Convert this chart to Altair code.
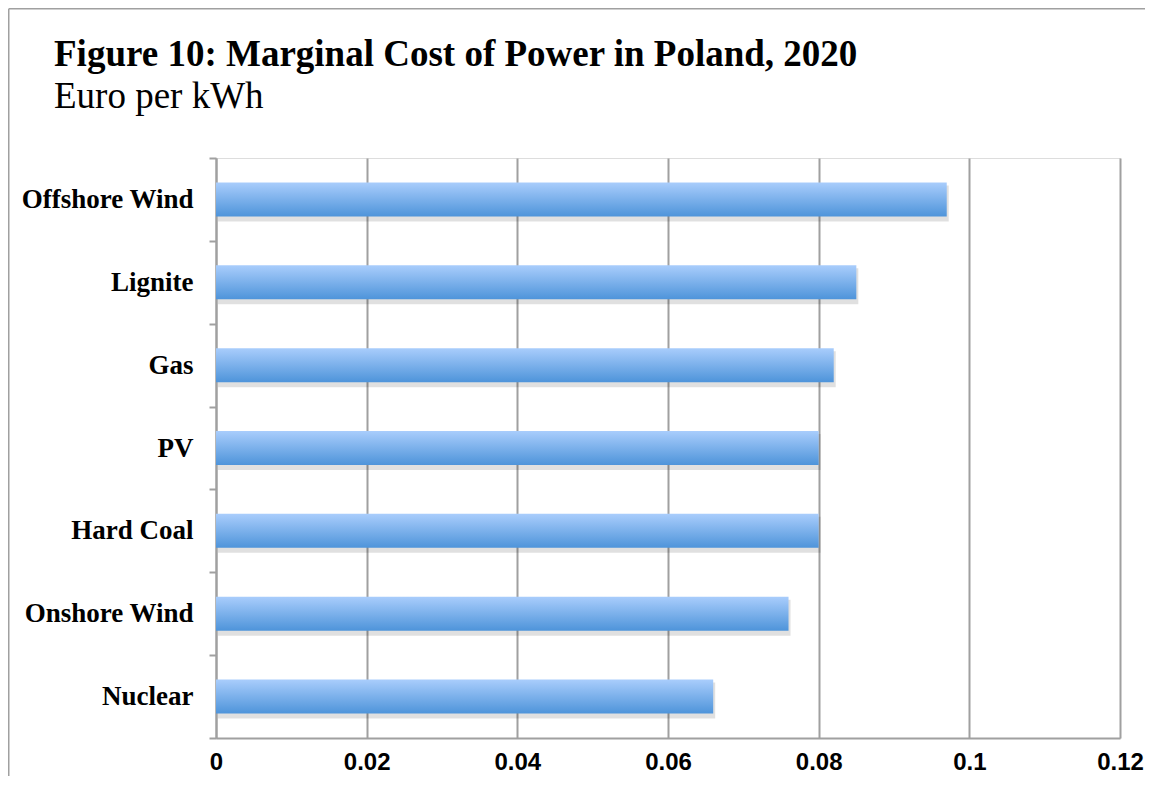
import altair as alt
import pandas as pd

categories = ["Offshore Wind", "Lignite", "Gas", "PV", "Hard Coal", "Onshore Wind", "Nuclear"]
values = [0.097, 0.085, 0.082, 0.080, 0.080, 0.076, 0.066]
x_ticks = [0, 0.02, 0.04, 0.06, 0.08, 0.1, 0.12]
title_text = "Figure 10: Marginal Cost of Power in Poland, 2020"
subtitle_text = "Euro per kWh"

df = pd.DataFrame({"source": categories, "cost": values})

GRAY = "#a0a0a0"

x_enc = alt.X("cost:Q",
              scale=alt.Scale(domain=[0, 0.12], nice=False),
              axis=alt.Axis(values=x_ticks, title=None, grid=True, gridColor=GRAY, gridWidth=2,
                            domainColor=GRAY, domainWidth=2, ticks=False, labelPadding=12,
                            labelFont="Liberation Sans", labelFontWeight="bold", labelFontSize=24,
                            labelColor="#000", labelFlush=False,
                            labelExpr="datum.value == 0 ? '0' : format(datum.value, '.2~f')"))
y_enc = alt.Y("source:N", sort=categories,
              scale=alt.Scale(paddingInner=0, paddingOuter=0),
              axis=alt.Axis(title=None, grid=False, domainColor=GRAY, domainWidth=2,
                            tickColor=GRAY, tickWidth=2, tickSize=7, tickBand="extent",
                            labelPadding=16, labelFont="Liberation Serif", labelFontWeight="bold",
                            labelFontSize=27, labelColor="#000"))

shadow = alt.Chart(df).mark_bar(color="#000000", opacity=0.12, height=36, yOffset=4, xOffset=2).encode(
    x=x_enc, y=y_enc)

bars = alt.Chart(df).mark_bar(
    height=34,
    color=alt.Gradient(gradient="linear",
                       stops=[alt.GradientStop(color="#a9cdfc", offset=0),
                              alt.GradientStop(color="#4e94da", offset=1)],
                       x1=0, x2=0, y1=0, y2=1)
).encode(x=x_enc, y=y_enc)

one = alt.Data(values=[{"k": 1}])
frame_left = alt.Chart(one).mark_rule(color=GRAY, strokeWidth=1.5).encode(
    x=alt.value(-207.25), y=alt.value(-149.25), y2=alt.value(640))
frame_top = alt.Chart(one).mark_rule(color=GRAY, strokeWidth=1.5).encode(
    x=alt.value(-207.25), x2=alt.value(960), y=alt.value(-149.25))

title_mark = alt.Chart(one).mark_text(
    text=title_text, align="left", baseline="alphabetic",
    font="Liberation Serif", fontSize=37, fontWeight="bold", color="#000"
).encode(x=alt.value(-162), y=alt.value(-92))
subtitle_mark = alt.Chart(one).mark_text(
    text=subtitle_text, align="left", baseline="alphabetic",
    font="Liberation Serif", fontSize=37, color="#000"
).encode(x=alt.value(-162), y=alt.value(-50))

chart = alt.layer(frame_left, frame_top, title_mark, subtitle_mark, shadow, bars).properties(
    width=904, height=580,
    padding={"left": 208, "top": 150, "right": 25, "bottom": 38},
    autosize=alt.AutoSizeParams(type="none"),
).configure_view(stroke=None).configure(background="white")

chart.save("out.html", embed_options={"renderer": "svg", "actions": False})
